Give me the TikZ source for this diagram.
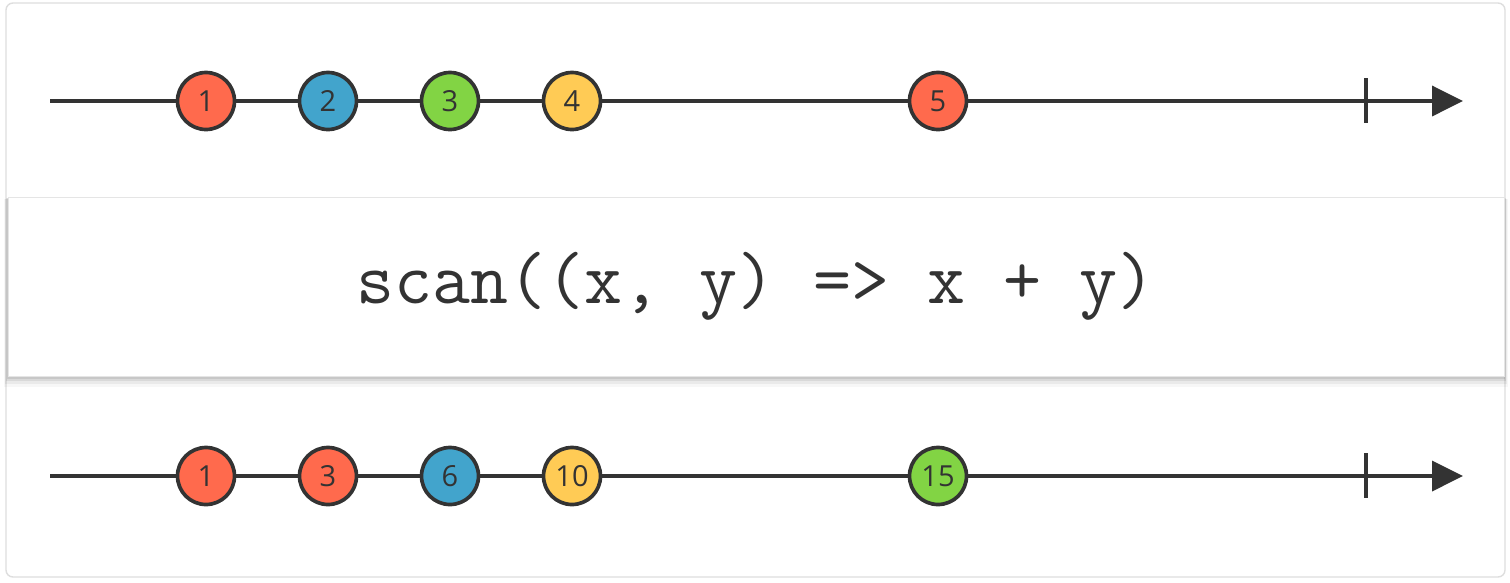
\documentclass[tikz,border=0pt]{standalone}
\usepackage{fontspec}
\setmainfont{Open Sans}
\usepackage{tikz}
\usetikzlibrary{arrows.meta,positioning,calc}
\definecolor{ink}{HTML}{333333}
\definecolor{mred}{HTML}{FF6A4D}
\definecolor{mblue}{HTML}{42A4CC}
\definecolor{mgreen}{HTML}{82D444}
\definecolor{myellow}{HTML}{FFCB55}

\begin{document}
\begin{tikzpicture}[x=0.02cm, y=-0.02cm, >={Triangle[length=0.62cm, width=0.6cm]}, font=\fontsize{16.5}{18}\selectfont]
  \tikzstyle{marble}=[circle, draw=ink, line width=2.1pt, minimum size=1.14cm, inner sep=0pt, text=ink]
  \tikzstyle{line}=[draw=ink, line width=2.1pt]
  \useasboundingbox (0,0) rectangle (1510,582);
  \fill[white] (0,0) rectangle (1510,582);
  \draw[black!13, line width=0.8pt, rounded corners=4pt] (6,3) rectangle (1505,577);

  % input stream
  \coordinate (s1) at (50,101);
  \coordinate (e1) at (1463,101);
  \coordinate (t1) at (1366,101);
  \draw[line, ->] (s1) -- (e1);
  \draw[line] ($(t1)+(0,-23)$) -- ($(t1)+(0,22)$);
  \node[marble, fill=mred] (a1) at (206,101) {1};
  \node[marble, fill=mblue] (a2) at (328,101) {2};
  \node[marble, fill=mgreen] (a3) at (450,101) {3};
  \node[marble, fill=myellow] (a4) at (572,101) {4};
  \node[marble, fill=mred] (a5) at (938,101) {5};

  % operator, soft shadow first
  \foreach \d/\o in {11/0.03, 8/0.05, 5/0.07, 3/0.08}
    \fill[black, opacity=\o] (8-\d*0.4,197+\d*0.2) rectangle (1504+\d*0.4,376+\d);
  \node[draw=black!10, fill=white, minimum width=29.92cm, minimum height=3.58cm, text=ink,
        font=\ttfamily\fontsize{42}{44}\selectfont] (op) at (756,286.5) {scan((x, y) => x + y)};

  % output stream
  \coordinate (s2) at (50,476);
  \coordinate (e2) at (1463,476);
  \coordinate (t2) at (1366,476);
  \draw[line, ->] (s2) -- (e2);
  \draw[line] ($(t2)+(0,-23)$) -- ($(t2)+(0,22)$);
  \node[marble, fill=mred] (b1) at (206,476) {1};
  \node[marble, fill=mred] (b2) at (328,476) {3};
  \node[marble, fill=mblue] (b3) at (450,476) {6};
  \node[marble, fill=myellow] (b4) at (572,476) {10};
  \node[marble, fill=mgreen] (b5) at (938,476) {15};
\end{tikzpicture}
\end{document}
